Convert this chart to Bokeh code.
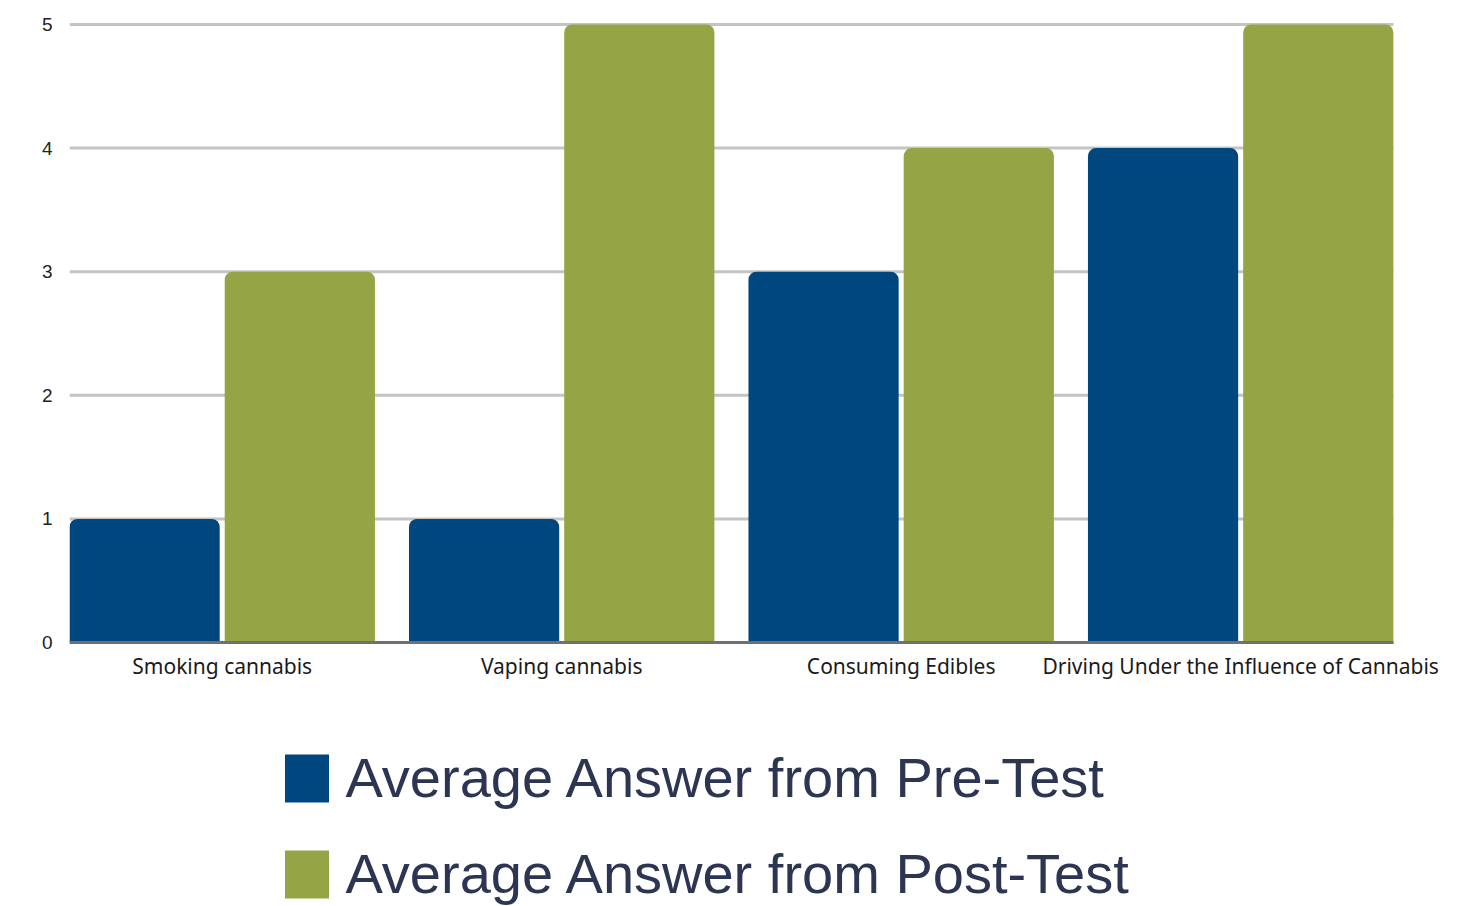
from bokeh.plotting import figure
from bokeh.models import Range1d, FixedTicker, Legend, LegendItem, ColumnDataSource
from bokeh.embed import file_html
from bokeh.resources import INLINE

categories = ["Smoking cannabis", "Vaping cannabis", "Consuming Edibles",
              "Driving Under the Influence of Cannabis"]
pre_test = [1, 1, 3, 4]
post_test = [3, 5, 4, 5]
y_ticks = [0, 1, 2, 3, 4, 5]
series_names = ["Average Answer from Pre-Test", "Average Answer from Post-Test"]
colors = ["#01477f", "#95a546"]

# layout (group pitch = 1 unit = 339px; bar = 150px; gap between pair = 5px)
BAR = 150 / 339
OFF = 77.5 / 339
HALF = 152.5 / 339
idx = list(range(len(categories)))
X_LO = -HALF
X_HI = len(categories) - 1 + HALF
X_VIEW_HI = X_HI + 84 / 339      # room on the right for the last category label

# vertical: value 0..5 spans 618px; frame extends 24px above and 264px below
PXU = 618 / 5
Y_LO = -264 / PXU
Y_HI = 5 + 24 / PXU

src = ColumnDataSource(dict(
    x_pre=[i - OFF for i in idx], x_post=[i + OFF for i in idx],
    pre=pre_test, post=post_test))
grid_src = ColumnDataSource(dict(y=y_ticks, x0=[X_LO] * len(y_ticks), x1=[X_HI] * len(y_ticks)))

p = figure(width=1477, height=906, output_backend="svg", toolbar_location=None,
           x_range=Range1d(X_LO, X_VIEW_HI), y_range=Range1d(Y_LO, Y_HI),
           min_border_left=69, min_border_right=0, min_border_top=0, min_border_bottom=0)
p.outline_line_color = None
p.background_fill_color = "white"
p.border_fill_color = "white"
p.xgrid.visible = False
p.ygrid.visible = False

gl = p.segment(x0="x0", x1="x1", y0="y", y1="y", source=grid_src,
               line_color="#c4c4c4", line_width=3)
gl.level = "underlay"

r1 = p.vbar(x="x_pre", top="pre", bottom=0, width=BAR, source=src,
            fill_color=colors[0], line_color=None, border_radius=(8, 8, 0, 0))
r2 = p.vbar(x="x_post", top="post", bottom=0, width=BAR, source=src,
            fill_color=colors[1], line_color=None, border_radius=(8, 8, 0, 0))

p.yaxis.ticker = FixedTicker(ticks=y_ticks)
p.yaxis.axis_line_color = None
p.yaxis.major_tick_line_color = None
p.yaxis.minor_tick_line_color = None
p.yaxis.major_label_text_font = "Liberation Sans"
p.yaxis.major_label_text_font_size = "19px"
p.yaxis.major_label_text_color = "#222222"
p.yaxis.major_label_standoff = 11

p.xaxis.fixed_location = 0
p.xaxis.bounds = (X_LO, X_HI)
p.xaxis.ticker = FixedTicker(ticks=idx)
p.xaxis.major_label_overrides = {i: c for i, c in zip(idx, categories)}
p.xaxis.axis_line_color = "#707070"
p.xaxis.axis_line_width = 3
p.xaxis.major_tick_line_color = None
p.xaxis.minor_tick_line_color = None
p.xaxis.major_label_text_font = "Noto Sans"
p.xaxis.major_label_text_font_size = "21px"
p.xaxis.major_label_text_color = "#1a1a1a"
p.xaxis.major_label_standoff = 3

legend = Legend(items=[LegendItem(label=series_names[0], renderers=[r1]),
                       LegendItem(label=series_names[1], renderers=[r2])],
                location=(209.5, -1), orientation="vertical",
                glyph_width=55, glyph_height=60, label_height=67, spacing=29,
                padding=0, margin=0, border_line_color=None, background_fill_alpha=0,
                label_text_font="Liberation Sans", label_text_font_size="56px",
                label_text_color="#2c3652", label_standoff=12)
p.add_layout(legend)

open("out.html", "w").write(file_html(p, INLINE))
